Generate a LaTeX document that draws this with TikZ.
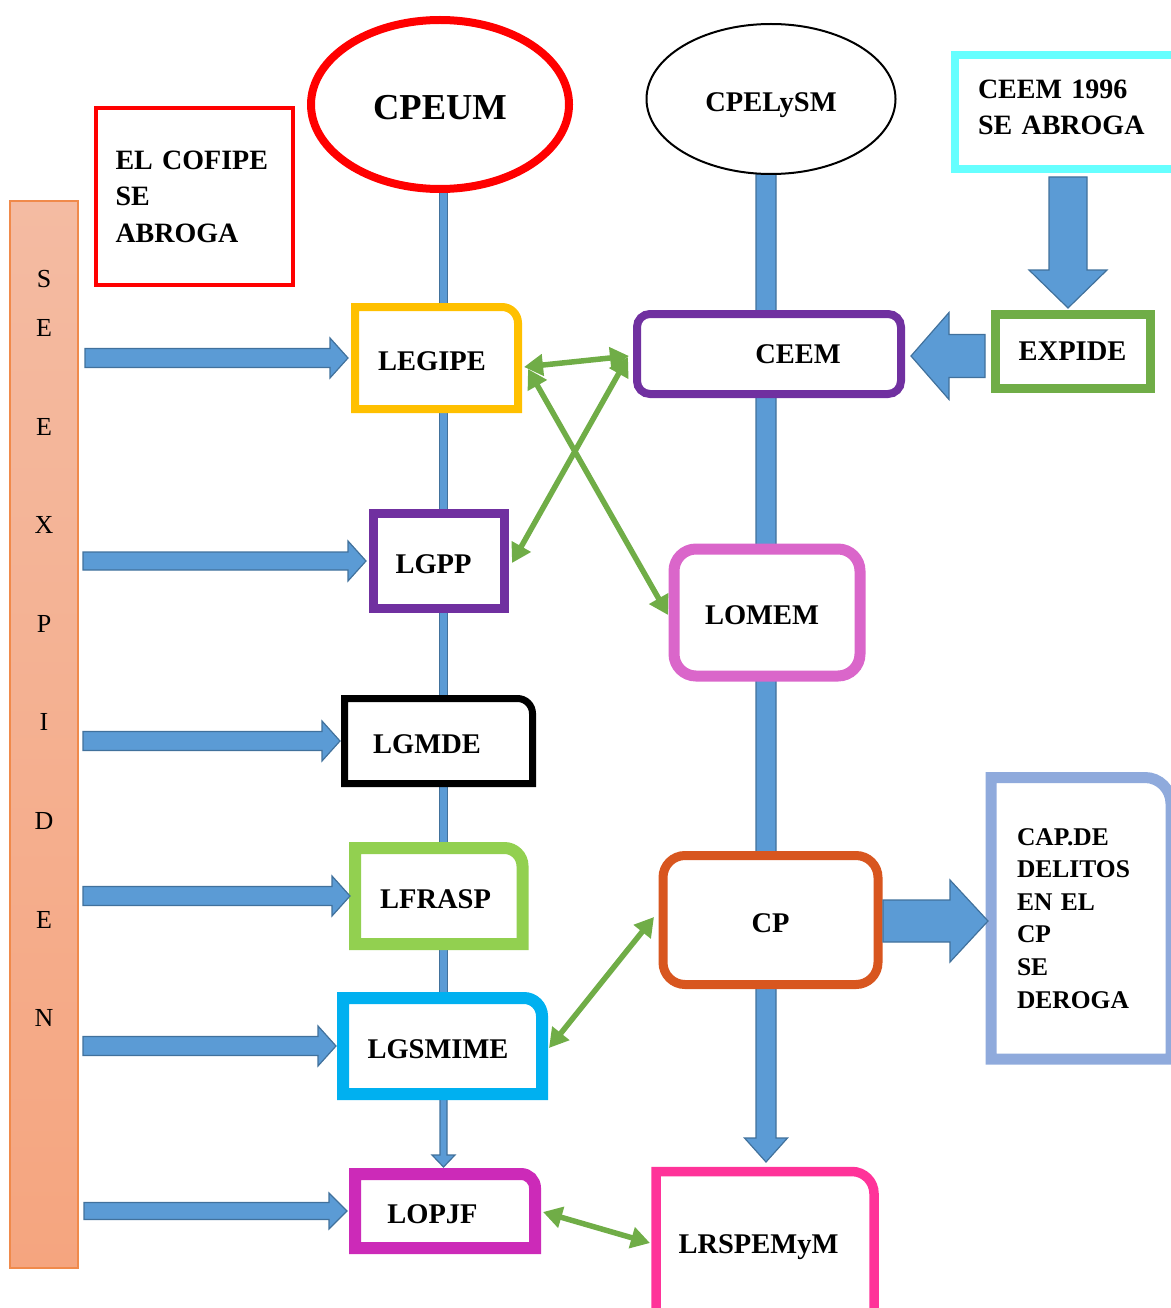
\documentclass[tikz,border=0pt]{standalone}
\usepackage{fontspec}
\setmainfont{Liberation Serif}
\usetikzlibrary{calc,shapes.geometric,arrows.meta}

\pgfdeclarelayer{bars}
\pgfdeclarelayer{boxes}
\pgfsetlayers{bars,boxes,main}

\definecolor{fillblue}{HTML}{5B9BD5}
\definecolor{edgeblue}{HTML}{41719C}
\definecolor{linkgreen}{HTML}{70AD47}
\definecolor{cofipered}{HTML}{FF0000}
\definecolor{oldcyan}{HTML}{66FFFF}
\definecolor{legipeyellow}{HTML}{FFC000}
\definecolor{lawpurple}{HTML}{7030A0}
\definecolor{lfraspgreen}{HTML}{92D050}
\definecolor{smimecyan}{HTML}{00B0F0}
\definecolor{lopjfmagenta}{HTML}{CC2AB8}
\definecolor{lomempink}{HTML}{DA66CA}
\definecolor{cporange}{HTML}{D8561F}
\definecolor{capblue}{HTML}{8FAADC}
\definecolor{lrspink}{HTML}{FF3399}
\definecolor{bartop}{HTML}{F4BBA2}
\definecolor{barbottom}{HTML}{F5A57F}
\definecolor{baredge}{HTML}{F08A4B}

% block arrow from coordinate #1 to tip #2: half shaft #3, half head #4, head length #5
\newcommand\blockarrow[5]{%
  \coordinate (ba-b) at ($(#2)!#5!(#1)$);
  \draw[blockarrow] ($(#1)!#3!90:(#2)$) -- ($(ba-b)!#3!90:(#2)$) -- ($(ba-b)!#4!90:(#2)$)
    -- (#2) -- ($(ba-b)!#4!-90:(#2)$) -- ($(ba-b)!#3!-90:(#2)$) -- ($(#1)!#3!-90:(#2)$) -- cycle;}

% outline of a node with only its top right corner rounded
\newcommand\cornerbox[3]{%
  \begin{pgfonlayer}{boxes}
    \draw[#2, fill=white, line join=miter] (#1.south west) -- (#1.north west)
      -- ([xshift=-#3]#1.north east)
      .. controls ([xshift=-0.45*#3]#1.north east) and ([yshift=-0.45*#3]#1.north east) ..
      ([yshift=-#3]#1.north east) -- (#1.south east) -- cycle;
  \end{pgfonlayer}}

\begin{document}
\begin{tikzpicture}[x=1pt,y=-1pt,
  every node/.style={inner sep=0pt, outer sep=0pt},
  lbl/.style={font=\fontsize{28.5}{37}\selectfont\bfseries, text height=24pt, text depth=0pt},
  para/.style={align=left, font=\fontsize{28}{36.5}\selectfont\bfseries},
  blockarrow/.style={fill=fillblue, draw=edgeblue, line width=1.2pt, line join=miter},
  link/.style={draw=linkgreen, line width=5.5pt,
    arrows={Triangle[width=21pt,length=19pt]-Triangle[width=21pt,length=19pt]}},
]
\useasboundingbox (0,0) rectangle (1170,1308);

% constitutions
\node[ellipse, draw=cofipered, line width=8pt, fill=white, minimum width=258pt, minimum height=169pt,
  font=\fontsize{36.5}{40}\selectfont\bfseries, text height=31pt, text depth=0pt] (cpeum) at (440,104.5) {CPEUM};
\node[ellipse, draw=black, line width=2pt, fill=white, minimum width=249pt, minimum height=150pt,
  lbl, text height=25pt] (cpelysm) at (771,99) {CPELySM};

% vertical band
\node[draw=baredge, line width=1.2pt, top color=bartop, bottom color=barbottom,
  minimum width=68pt, minimum height=1067pt] (bar) at (44,734.5) {};
\node[font=\fontsize{26}{49.3}\selectfont, align=center] (word) at (44,648.3)
  {S\\E\\[49.3pt]E\\[49.3pt]X\\[49.3pt]P\\[49.3pt]I\\[49.3pt]D\\[49.3pt]E\\[49.3pt]N};

% note boxes
\node[para, draw=cofipered, line width=4pt, text width=158pt, inner xsep=19.5pt, minimum height=177pt]
  (cofipe) at (194.5,196.5) {EL COFIPE\\SE\\ABROGA};
\node[para, draw=oldcyan, line width=8pt, text width=179pt, inner xsep=23pt, minimum height=114pt]
  (oldceem) at (1067.5,112) {CEEM 1996\\SE ABROGA\rule[-10pt]{0pt}{10pt}};
\node[lbl, text height=19pt, draw=linkgreen, line width=9pt, fill=white, minimum width=155pt, minimum height=74pt]
  (expide) at (1072.5,351) {EXPIDE};

% federal laws
\node[lbl, minimum width=163pt, minimum height=102pt] (legipe) at (436.5,358) {\hspace*{-9pt}LEGIPE};
\cornerbox{legipe}{draw=legipeyellow, line width=8pt}{16pt}
\node[lbl, draw=lawpurple, line width=9pt, fill=white, minimum width=130.5pt, minimum height=95pt]
  (lgpp) at (438.75,561) {\hspace*{-10.5pt}LGPP};
\node[lbl, minimum width=188pt, minimum height=85pt] (lgmde) at (438.5,741) {\hspace*{-23pt}LGMDE};
\cornerbox{lgmde}{draw=black, line width=7pt}{15pt}
\node[lbl, minimum width=167.5pt, minimum height=96pt] (lfrasp) at (438.75,896) {\hspace*{-6.5pt}LFRASP};
\cornerbox{lfrasp}{draw=lfraspgreen, line width=12pt}{18pt}
\node[lbl, minimum width=199pt, minimum height=96pt] (lgsmime) at (442.5,1046) {\hspace*{-9pt}LGSMIME};
\cornerbox{lgsmime}{draw=smimecyan, line width=12pt}{18pt}
\node[lbl, minimum width=180pt, minimum height=74pt] (lopjf) at (445,1211) {\hspace*{-25pt}LOPJF};
\cornerbox{lopjf}{draw=lopjfmagenta, line width=12pt}{14pt}

% state laws
\node[lbl, text height=19pt, draw=lawpurple, line width=8pt, fill=white, rounded corners=13pt, minimum width=264pt,
  minimum height=80pt] (ceem) at (769,354) {\hspace*{58pt}CEEM};
\node[lbl, draw=lomempink, line width=11pt, fill=white, rounded corners=22pt, minimum width=186pt,
  minimum height=127pt] (lomem) at (767,612.5) {\hspace*{-10pt}LOMEM};
\node[lbl, draw=cporange, line width=9pt, fill=white, rounded corners=22pt, minimum width=215pt,
  minimum height=129pt] (cp) at (770.5,920) {CP};
\node[lbl, text height=20pt, minimum width=218pt, minimum height=143pt] (lrspemym) at (765,1243) {\hspace*{-13pt}LRSPEMyM};
\cornerbox{lrspemym}{draw=lrspink, line width=9.5pt}{22pt}
\node[para, font=\fontsize{25.5}{32.6}\selectfont\bfseries, text width=128pt, inner xsep=26pt,
  minimum height=281.5pt] (capbox) at (1081,918.25) {CAP.DE\\DELITOS\\EN EL\\CP\\SE\\DEROGA};
\cornerbox{capbox}{draw=capblue, line width=11pt}{26pt}

% trunk lines
\coordinate (colA) at (443.5,0);
\coordinate (colB) at (766,0);
\begin{pgfonlayer}{bars}
  \draw[blockarrow] ($(cpeum.center -| colA)+(-4,0)$) rectangle ($(lgsmime.center -| colA)+(4,0)$);
  \coordinate (ta) at (lgsmime.center -| colA);
  \coordinate (ha) at ($(lopjf.north -| colA)+(0,-7)$);
  \blockarrow{ta}{ha}{3.5pt}{11.5pt}{12pt}
  \coordinate (tb) at (cpelysm.center -| colB);
  \coordinate (hb) at ($(lrspemym.north -| colB)+(0,-9.5)$);
  \blockarrow{tb}{hb}{10pt}{21.5pt}{24pt}
\end{pgfonlayer}

% arrows from the band
\coordinate (s1) at ($(bar.east |- legipe.west)+(7,0)$);  \coordinate (e1) at ($(legipe.west)+(-7,0)$);
\coordinate (s2) at ($(bar.east |- lgpp.west)+(5,0)$);    \coordinate (e2) at ($(lgpp.west)+(-7.5,0)$);
\coordinate (s3) at ($(bar.east |- lgmde.west)+(5,0)$);   \coordinate (e3) at ($(lgmde.west)+(-4.5,0)$);
\coordinate (s4) at ($(bar.east |- lfrasp.west)+(5,0)$);  \coordinate (e4) at ($(lfrasp.west)+(-5,0)$);
\coordinate (s5) at ($(bar.east |- lgsmime.west)+(5,0)$); \coordinate (e5) at ($(lgsmime.west)+(-7,0)$);
\coordinate (s6) at ($(bar.east |- lopjf.west)+(6,0)$);   \coordinate (e6) at ($(lopjf.west)+(-8,0)$);
\blockarrow{s1}{e1}{9.5pt}{20pt}{18pt}
\blockarrow{s2}{e2}{9pt}{20pt}{18pt}
\blockarrow{s3}{e3}{9.5pt}{20pt}{18pt}
\blockarrow{s4}{e4}{9.5pt}{20pt}{18pt}
\blockarrow{s5}{e5}{9.5pt}{20pt}{18pt}
\blockarrow{s6}{e6}{8.5pt}{18pt}{18pt}

% arrows on the right
\coordinate (d1) at ($(oldceem.south)+(0.5,8)$);
\coordinate (d2) at ($(expide.north -| d1)+(0,-6)$);
\blockarrow{d1}{d2}{19pt}{39pt}{38pt}
\coordinate (x1) at ($(expide.west)+(-10,5)$);
\coordinate (x2) at ($(ceem.east)+(10,2)$);
\blockarrow{x1}{x2}{21.5pt}{43.5pt}{38pt}
\coordinate (c1) at ($(cp.east)+(5,1)$);
\coordinate (capw) at ($(capbox.west)+(-3,0)$);
\coordinate (c2) at (capw |- c1);
\blockarrow{c1}{c2}{21pt}{41pt}{38pt}

% two-way links
\draw[link] ($(legipe.east)+(6,9)$) -- ($(ceem.west)+(-8,2)$);
\draw[link] ($(legipe.east)+(10,11)$) -- ($(lomem.west)+(-6,2.5)$);
\draw[link] ($(ceem.west)+(-9,3)$) -- ($(lgpp.east)+(8,2)$);
\draw[link] ($(lgsmime.east)+(7,2)$) -- ($(cp.west)+(-9,-3)$);
\draw[link] ($(lopjf.east)+(8,1)$) -- ($(lrspemym.west)+(-6,0)$);
\end{tikzpicture}
\end{document}
